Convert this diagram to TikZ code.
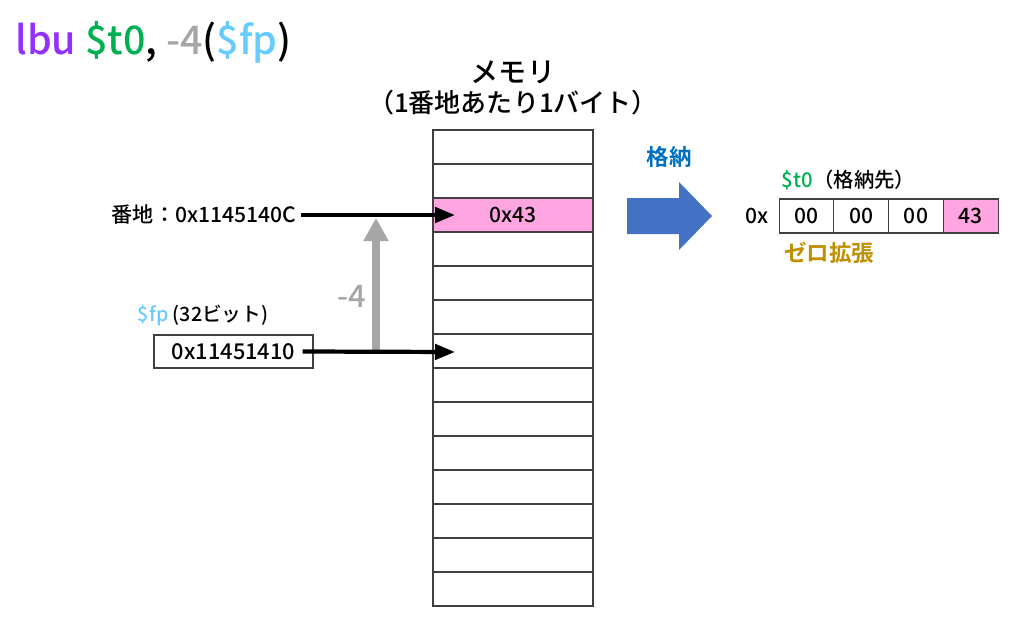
\documentclass[tikz,border=0pt]{standalone}
\usepackage{fontspec}
\setmainfont{Noto Sans CJK JP}[UprightFont=* Medium, BoldFont=* Bold]
\usetikzlibrary{arrows.meta}
\definecolor{cellpink}{RGB}{255,166,226}
\definecolor{opcolor}{RGB}{146,48,255}
\definecolor{tzerocolor}{RGB}{0,176,80}
\definecolor{offsetgray}{RGB}{166,166,166}
\definecolor{fpcolor}{RGB}{102,204,255}
\definecolor{storeblue}{RGB}{68,114,196}
\definecolor{storetext}{RGB}{0,112,192}
\definecolor{zerogold}{RGB}{191,144,0}
\def \px {0.025cm}
\def \cellwidth {160}
\def \cellheight {34}
\def \regwidth {54.75}
\def \memx {513}
\def \memtop {130}

\begin{document}
\begin{tikzpicture}[x=\px,y=-\px,
  memcell/.style={draw=black!75, line width=0.8pt, minimum width=\cellwidth*\px,
    minimum height=\cellheight*\px, inner sep=0pt, font=\fontsize{15}{17}\selectfont},
  regcell/.style={draw=black!75, line width=0.8pt, minimum width=\regwidth*\px,
    minimum height=\cellheight*\px, inner sep=0pt, font=\fontsize{15}{17}\selectfont},
  blackarrow/.style={line width=3pt, -{Triangle[length=0.5cm,width=0.38cm]}},
  grayarrow/.style={offsetgray, line width=5pt, -{Triangle[length=0.58cm,width=0.6cm]}}]
\useasboundingbox (0,0) rectangle (1024,623);

% Draw the instruction
\node[anchor=west, inner sep=0pt, font=\fontsize{28}{32}\selectfont] (instr) at (15,42)
  {\textcolor{opcolor}{lbu} \textcolor{tzerocolor}{\$t0}, \textcolor{offsetgray}{-4}(\textcolor{fpcolor}{\$fp})};

% Draw the memory column
\node[font=\fontsize{20}{24}\selectfont] (memtitle) at (\memx,72) {メモリ};
\node[font=\fontsize{18.5}{22}\selectfont] (memsub) at (\memx,103) {（1番地あたり1バイト）};
\foreach \i in {0,...,13}
  \node[memcell] (cell\i) at (\memx,\memtop+\cellheight/2+\i*\cellheight) {};
\node[memcell, fill=cellpink] (loaded) at (cell2) {0x43};

% Draw the address and the frame pointer
\node[anchor=east, font=\fontsize{15}{17}\selectfont] (addr) at (301,215) {番地：0x1145140C};
\node[anchor=west, font=\fontsize{14}{16}\selectfont] (fplabel) at (133,315)
  {\textcolor{fpcolor}{\$fp} (32ビット)};
\node[draw=black!75, line width=0.8pt, minimum width=159*\px, minimum height=33*\px,
  font=\fontsize{15.5}{17}\selectfont] (fpreg) at (233.5,351.5) {0x11451410};
\node[offsetgray, font=\fontsize{22}{24}\selectfont] (offset) at (352,296) {-4};

% Draw the arrows
\coordinate (addrtip) at (455,215);
\coordinate (fptip) at (455,352);
\coordinate (offsetbase) at (376,352);
\coordinate (offsettip) at (376,218);
\draw[grayarrow] (offsetbase) -- (offsettip);
\draw[blackarrow] (addr.east) -- (addrtip);
\draw[blackarrow] ([xshift=-11*\px]fpreg.east) -- (fptip);

% Draw the store arrow
\fill[storeblue] (627,198) -- (679,198) -- (679,182) -- (712,216) -- (679,250) -- (679,234) -- (627,234) -- cycle;
\node[storetext, font=\fontsize{16}{18}\selectfont\bfseries] (storelabel) at (669,157) {格納};

% Draw the destination register
\node[anchor=west, font=\fontsize{14.5}{16}\selectfont] (tzerolabel) at (777,180)
  {\textcolor{tzerocolor}{\$t0}（格納先）};
\node[font=\fontsize{15}{17}\selectfont] (hexprefix) at (757,216) {0x};
\foreach \i in {0,1,2}
  \node[regcell] (reg\i) at (806.5+\i*\regwidth,216) {00};
\node[regcell, fill=cellpink] (reg3) at (806.5+3*\regwidth,216) {43};
\node[zerogold, font=\fontsize{16}{18}\selectfont\bfseries] (zeroext) at (829,253) {ゼロ拡張};
\end{tikzpicture}
\end{document}
